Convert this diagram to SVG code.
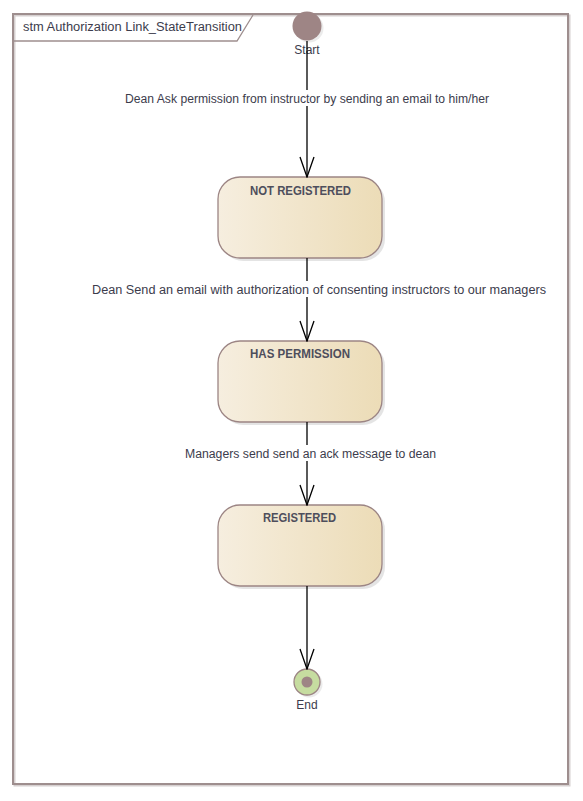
<svg xmlns="http://www.w3.org/2000/svg" width="583" height="801" viewBox="0 0 583 801">
<defs>
  <linearGradient id="stateFill" x1="0" y1="0" x2="1" y2="0">
    <stop offset="0" stop-color="#f6eedf"/>
    <stop offset="1" stop-color="#ecdcb7"/>
  </linearGradient>
  <marker id="openArrow" markerUnits="userSpaceOnUse" viewBox="0 0 22 16" refX="21" refY="8" markerWidth="22" markerHeight="16" orient="auto">
    <path d="M1,1 L21,8 L1,15" fill="none" stroke="#000" stroke-width="1.3"/>
  </marker>
</defs>
<style>
  .lbl { font-family: "Liberation Sans", Arial, sans-serif; font-size: 12px; fill: #3c3c4c; }
  .ttl { font-family: "Liberation Sans", Arial, sans-serif; font-size: 12px; font-weight: bold; fill: #4e4e5c; }
  .state { fill: url(#stateFill); stroke: #9c8584; stroke-width: 1.3; }
  .shadow { fill: #d8d8d8; opacity: 0.7; }
  .conn { stroke: #000; stroke-width: 1.3; fill: none; marker-end: url(#openArrow); }
  .bg { fill: #ffffff; }
</style>
<rect x="0" y="0" width="583" height="801" fill="#ffffff"/>

<g id="frame">
  <rect x="14.5" y="15.5" width="555" height="770" fill="none" stroke="#d6d0d0" stroke-width="2"/>
  <rect x="13" y="14" width="555" height="770" fill="none" stroke="#9e8e8e" stroke-width="2"/>
  <path d="M14,41 L237,41 L253,15" fill="none" stroke="#9e8e8e" stroke-width="1.3"/>
  <text class="lbl" x="23" y="31" textLength="219" lengthAdjust="spacingAndGlyphs">stm Authorization Link_StateTransition</text>
</g>

<g id="start">
  <circle cx="309" cy="28" r="14.5" fill="#dddddd" opacity="0.6"/>
  <circle cx="307" cy="26" r="14.5" fill="#9e8585"/>
  <text class="lbl" x="307" y="54" text-anchor="middle">Start</text>
</g>

<g id="not-registered">
  <rect class="shadow" x="221" y="180" width="164" height="81" rx="22"/>
  <rect class="state" x="218" y="177" width="164" height="81" rx="22"/>
  <text class="ttl" x="300.5" y="195" text-anchor="middle" textLength="101" lengthAdjust="spacingAndGlyphs">NOT REGISTERED</text>
</g>

<g id="has-permission">
  <rect class="shadow" x="221" y="344" width="164" height="81" rx="22"/>
  <rect class="state" x="218" y="341" width="164" height="81" rx="22"/>
  <text class="ttl" x="300" y="358" text-anchor="middle" textLength="100" lengthAdjust="spacingAndGlyphs">HAS PERMISSION</text>
</g>

<g id="registered">
  <rect class="shadow" x="221" y="508" width="164" height="81" rx="22"/>
  <rect class="state" x="218" y="505" width="164" height="81" rx="22"/>
  <text class="ttl" x="299.5" y="522" text-anchor="middle" textLength="73" lengthAdjust="spacingAndGlyphs">REGISTERED</text>
</g>

<g id="end">
  <circle cx="309" cy="684" r="13.5" fill="#dddddd" opacity="0.6"/>
  <circle cx="307" cy="682" r="13" fill="#c6dca0" stroke="#9c8584" stroke-width="1.3"/>
  <circle cx="307" cy="682" r="5.5" fill="#9e8585"/>
  <text class="lbl" x="307" y="709" text-anchor="middle">End</text>
</g>

<g id="connectors">
  <line class="conn" x1="307" y1="41" x2="307" y2="177"/>
  <line class="conn" x1="307" y1="258" x2="307" y2="341"/>
  <line class="conn" x1="307" y1="422" x2="307" y2="505"/>
  <line class="conn" x1="307" y1="586" x2="307" y2="669"/>
  <rect class="bg" x="123" y="90" width="368" height="16"/>
  <text class="lbl" x="307" y="103" text-anchor="middle" textLength="364" lengthAdjust="spacingAndGlyphs">Dean Ask permission from instructor by sending an email to him/her</text>
  <rect class="bg" x="90" y="281" width="458" height="16"/>
  <text class="lbl" x="319" y="294" text-anchor="middle" textLength="454" lengthAdjust="spacingAndGlyphs">Dean Send an email with authorization of consenting instructors to our managers</text>
  <rect class="bg" x="183" y="445" width="255" height="16"/>
  <text class="lbl" x="310.5" y="458" text-anchor="middle" textLength="251" lengthAdjust="spacingAndGlyphs">Managers send send an ack message to dean</text>
</g>
</svg>
